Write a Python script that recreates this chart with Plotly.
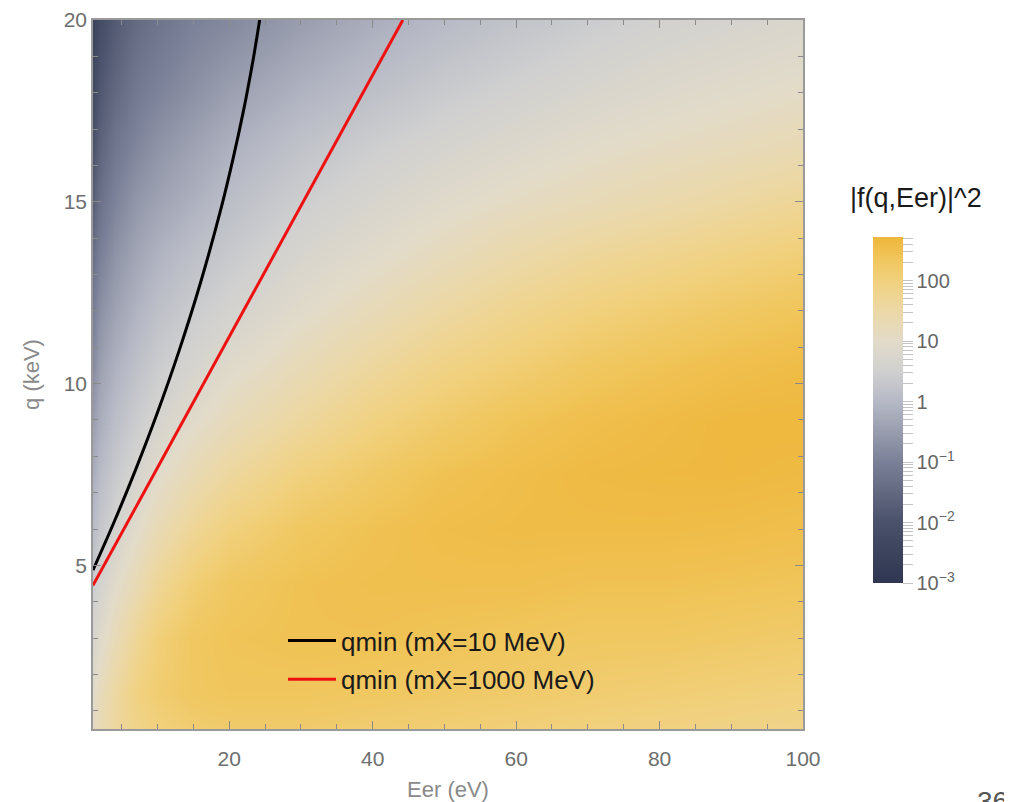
import numpy as np
import plotly.graph_objects as go

# ---------------- data ----------------
Eer_grid = [1, 2, 4, 7, 10, 15, 20, 30, 40, 50, 60, 70, 80, 90, 100]
q_grid = [0.5, 1.5, 3, 4.5, 6, 7.5, 9, 10.5, 12, 13.5, 15, 16.5, 18, 20]

# log10 |f(q,Eer)|^2, one list per Eer column (values along q_grid)
logf_cols = [
    [1.10, 0.95, 0.70, 0.40, 0.05, -0.20, -0.50, -0.80, -1.05, -1.35, -1.70, -2.00, -2.25, -2.55],
    [1.30, 1.20, 0.90, 0.60, 0.30, 0.05, -0.20, -0.45, -0.70, -1.00, -1.30, -1.60, -1.85, -2.15],
    [1.60, 1.55, 1.25, 0.95, 0.60, 0.35, 0.10, -0.15, -0.40, -0.65, -0.95, -1.20, -1.50, -1.80],
    [1.85, 1.95, 1.70, 1.30, 0.95, 0.65, 0.40, 0.15, -0.10, -0.35, -0.60, -0.90, -1.15, -1.45],
    [2.00, 2.15, 2.05, 1.70, 1.30, 0.95, 0.65, 0.40, 0.15, -0.10, -0.40, -0.65, -0.95, -1.25],
    [2.15, 2.30, 2.30, 2.10, 1.70, 1.30, 0.95, 0.65, 0.40, 0.15, -0.15, -0.40, -0.70, -1.00],
    [2.20, 2.35, 2.40, 2.30, 2.00, 1.60, 1.20, 0.90, 0.60, 0.35, 0.10, -0.15, -0.45, -0.85],
    [2.20, 2.35, 2.45, 2.45, 2.30, 2.00, 1.60, 1.25, 0.95, 0.70, 0.45, 0.20, -0.10, -0.50],
    [2.15, 2.30, 2.45, 2.50, 2.45, 2.25, 1.95, 1.60, 1.25, 0.95, 0.70, 0.45, 0.15, -0.20],
    [2.10, 2.25, 2.40, 2.50, 2.55, 2.45, 2.20, 1.90, 1.55, 1.20, 0.92, 0.65, 0.38, 0.02],
    [2.05, 2.20, 2.35, 2.50, 2.58, 2.55, 2.40, 2.10, 1.80, 1.45, 1.10, 0.82, 0.55, 0.22],
    [2.00, 2.15, 2.30, 2.45, 2.58, 2.62, 2.52, 2.30, 2.00, 1.65, 1.25, 0.98, 0.72, 0.40],
    [1.95, 2.10, 2.30, 2.45, 2.58, 2.64, 2.60, 2.42, 2.15, 1.80, 1.40, 1.10, 0.85, 0.55],
    [1.90, 2.05, 2.25, 2.42, 2.56, 2.65, 2.66, 2.52, 2.28, 1.95, 1.55, 1.20, 0.95, 0.65],
    [1.85, 2.00, 2.20, 2.38, 2.52, 2.62, 2.67, 2.58, 2.38, 2.08, 1.70, 1.32, 1.05, 0.75],
]

# qmin curves
qmin10_Eer = [1, 4, 7, 10, 13, 16, 19, 20.5, 22, 23, 23.6, 24.2, 24.35]
qmin10_q = [4.87, 6.22, 7.66, 9.21, 10.90, 12.78, 14.93, 16.16, 17.52, 18.55, 19.22, 19.95, 20.15]
qmin1000_Eer = [1, 20, 44.2]
qmin1000_q = [4.45, 11.30, 20.0]

name10 = "qmin (mX=10 MeV)"
name1000 = "qmin (mX=1000 MeV)"

cb_title = "|f(q,Eer)|^2"
cb_major_vals = [-3, -2, -1, 0, 1, 2]
cb_major_text = ["10<sup>\u22123</sup>", "10<sup>\u22122</sup>", "10<sup>\u22121</sup>", "1", "10", "100"]
zmin, zmax = -3.0, 2.72

x_ticks = [20, 40, 60, 80, 100]
y_ticks = [5, 10, 15, 20]

# ---------------- figure ----------------
Z = np.array(logf_cols).T  # rows = q, columns = Eer

colorscale = [
    [0.000, "#2e3651"],
    [0.175, "#4a516a"],
    [0.350, "#7a8097"],
    [0.524, "#b6b9c5"],
    [0.612, "#d0d0d0"],
    [0.699, "#e2dbc9"],
    [0.787, "#ecd8a6"],
    [0.874, "#f1d17e"],
    [0.940, "#f0c55a"],
    [1.000, "#efb63a"],
]

# colorbar minor ticks (2..9 x decade) with blank labels
tv, tt = [], []
for d in range(-3, 3):
    tv.append(d)
    tt.append(cb_major_text[cb_major_vals.index(d)])
    for k in range(2, 10):
        v = d + np.log10(k)
        if v <= zmax:
            tv.append(v)
            tt.append("")

OFF = 8  # page body margin of the html page
W, H = 1004, 794
L, T = 85, 12
pw, ph = 710, 709
R, B = W - L - pw, H - T - ph


def px_x(p):
    return (p - OFF - L) / pw


def px_y(p):
    return (H - B - (p - OFF)) / ph


font_family = "Liberation Sans, Arial, Helvetica, sans-serif"

fig = go.Figure()
fig.add_trace(go.Heatmap(
    x=Eer_grid, y=q_grid, z=Z,
    zmin=zmin, zmax=zmax, zsmooth="best",
    colorscale=colorscale, showscale=True, hoverinfo="skip",
    colorbar=dict(
        x=px_x(873), xanchor="left", xpad=0,
        y=px_y(410), yanchor="middle", ypad=0,
        len=346, lenmode="pixels", thickness=30, thicknessmode="pixels",
        outlinewidth=0,
        tickvals=tv, ticktext=tt, ticks="outside", ticklen=10, tickwidth=1,
        tickcolor="#c4c4c4",
        tickfont=dict(family=font_family, size=20, color="#666666"),
    ),
))
fig.add_trace(go.Scatter(
    x=qmin10_Eer, y=qmin10_q, mode="lines", name=name10, legendgroup="a",
    line=dict(color="black", width=3, shape="spline"), hoverinfo="skip",
))
fig.add_trace(go.Scatter(
    x=qmin1000_Eer, y=qmin1000_q, mode="lines", name=name1000, legendgroup="b",
    line=dict(color="#ee1111", width=3), hoverinfo="skip",
))

axis_common = dict(
    showgrid=False, zeroline=False, showline=True, linecolor="#9a9a9a", linewidth=1.5,
    mirror="ticks", ticks="inside", ticklen=8, tickwidth=1.2, tickcolor="#8a8a8a",
    tickfont=dict(family=font_family, size=21, color="#6e6e6e"),
    automargin=False,
)

fig.update_layout(
    width=W, height=H,
    margin=dict(l=L, r=R, t=T, b=B, autoexpand=False),
    paper_bgcolor="white", plot_bgcolor="white",
    font=dict(family=font_family),
    xaxis=dict(
        range=[1, 100], tickvals=x_ticks, ticklabelstandoff=10,
        minor=dict(ticks="inside", ticklen=5, dtick=5, tick0=0, tickcolor="#8a8a8a", tickwidth=1),
        title=dict(text="Eer (eV)", font=dict(family=font_family, size=22, color="#8a8a8a"), standoff=18),
        **axis_common,
    ),
    yaxis=dict(
        range=[0.5, 20], tickvals=y_ticks,
        minor=dict(ticks="inside", ticklen=5, dtick=1, tick0=0, tickcolor="#8a8a8a", tickwidth=1),
        title=dict(text="q (keV)", font=dict(family=font_family, size=22, color="#8a8a8a"), standoff=18),
        **axis_common,
    ),
    legend=dict(
        x=px_x(283), y=px_y(617), xanchor="left", yanchor="top",
        bgcolor="rgba(0,0,0,0)", borderwidth=0,
        font=dict(family=font_family, size=26, color="#1a1a1a"),
        tracegroupgap=2, itemwidth=48,
    ),
    annotations=[
        dict(text=cb_title, x=px_x(916), y=px_y(198), xref="paper", yref="paper",
             xanchor="center", yanchor="middle", showarrow=False,
             font=dict(family=font_family, size=27, color="#1a1a1a")),
        dict(text="36", x=px_x(992), y=px_y(784), xref="paper", yref="paper",
             xanchor="center", yanchor="top", showarrow=False,
             font=dict(family=font_family, size=28, color="#555555")),
    ],
)

fig.write_html("out.html")
